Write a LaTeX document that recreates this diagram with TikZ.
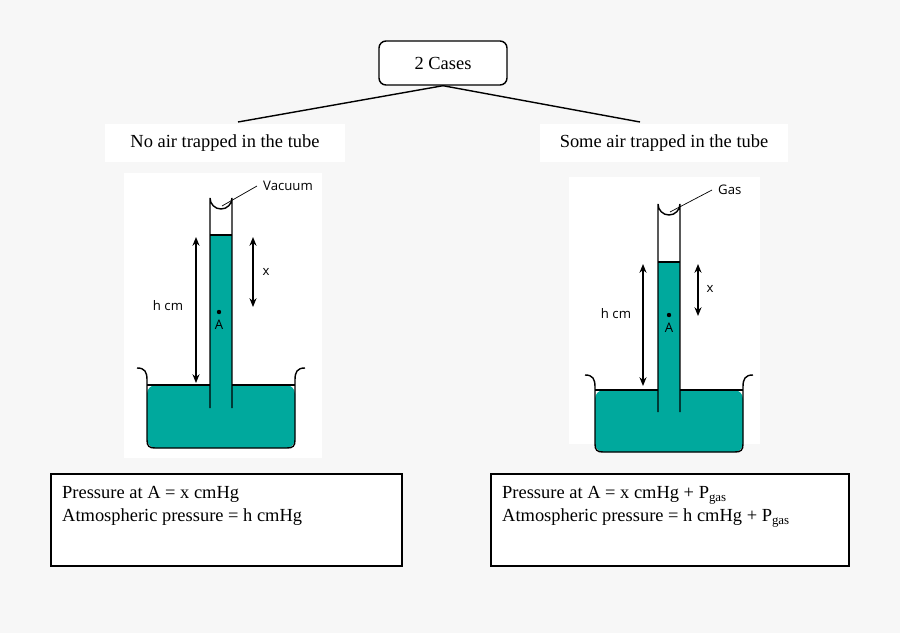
\documentclass[tikz,border=0pt]{standalone}
\usepackage{fontspec}
\setmainfont{Liberation Serif}
\newfontfamily\lab{Open Sans}
\usetikzlibrary{arrows.meta}
\definecolor{bg}{HTML}{F7F7F7}
\definecolor{teal}{HTML}{00A99D}
\begin{document}
\begin{tikzpicture}[x=0.02cm,y=-0.02cm,
  serif/.style={font=\fontsize{10.5pt}{13pt}\selectfont},
  lbl/.style={font=\lab\fontsize{7.5pt}{9pt}\selectfont},
  dim/.style={{Stealth[length=5pt,width=4pt]}-{Stealth[length=5pt,width=4pt]},line width=0.7pt},
  wall/.style={line width=0.8pt}]
\fill[bg] (0,0) rectangle (900,633);
\useasboundingbox (0,0) rectangle (900,633);
% top
\node[draw,rounded corners=4pt,minimum width=128*0.02cm,minimum height=44*0.02cm,fill=white,serif,line width=0.8pt] (cases) at (443,63) {2 Cases};
\coordinate (L) at (238,122); \coordinate (R) at (640,122);
\draw[line width=0.8pt] (cases.south) -- (L);
\draw[line width=0.8pt] (cases.south) -- (R);
\node[fill=white,minimum width=240*0.02cm,minimum height=38*0.02cm,serif] (nl) at (225,143) {No air trapped in the tube};
\node[fill=white,minimum width=248*0.02cm,minimum height=38*0.02cm,serif] (nr) at (664,143) {Some air trapped in the tube};
% bottom boxes
\node[draw,fill=white,minimum width=351*0.02cm,minimum height=92*0.02cm,line width=0.6pt] (bl) at (226.5,520) {};
\node[serif,anchor=north west,align=left] at (56,480) {Pressure at A = x cmHg\\Atmospheric pressure = h cmHg};
\node[draw,fill=white,minimum width=358*0.02cm,minimum height=92*0.02cm,line width=0.6pt] (br) at (670,520) {};
\node[serif,anchor=north west,align=left] at (496,480) {Pressure at A = x cmHg + P\textsubscript{gas}\\Atmospheric pressure = h cmHg + P\textsubscript{gas}};
% left diagram
\fill[white] (124,173) rectangle (322,458);
\fill[teal,rounded corners=5pt] (147,385) -- (147,448) -- (295,448) -- (295,385) -- cycle;
\fill[teal] (210,235) rectangle (232,385);
\draw[wall] (137,368) .. controls (145,368) and (147,372) .. (147,380) -- (147,440) .. controls (147,446) and (149,448) .. (155,448) -- (287,448) .. controls (293,448) and (295,446) .. (295,440) -- (295,380) .. controls (295,372) and (297,368) .. (305,368);
\draw[wall] (147,385) -- (210,385) (232,385) -- (295,385);
\draw[wall] (210,408) -- (210,198) arc[start angle=180,end angle=0,radius=11] -- (232,408);
\draw[wall] (210,235) -- (232,235);
\draw[dim] (196,237) -- (196,383);
\draw[dim] (253,237) -- (253,307);
\node[lbl] at (168,306) {h cm};
\node[lbl] at (266,272) {x};
\fill (219,312) circle (2.2);
\node[lbl] at (219,325) {A};
\node[lbl,anchor=west] (vac) at (257,186) {Vacuum};
\draw[line width=0.4pt] (222,206) -- (vac.west);
% right diagram
\fill[white] (569,177) rectangle (760,444);
\fill[teal,rounded corners=5pt] (595,390) -- (595,452) -- (743,452) -- (743,390) -- cycle;
\fill[teal] (658,262) rectangle (680,390);
\draw[wall] (585,375) .. controls (593,375) and (595,379) .. (595,387) -- (595,444) .. controls (595,450) and (597,452) .. (603,452) -- (735,452) .. controls (741,452) and (743,450) .. (743,444) -- (743,387) .. controls (743,379) and (745,375) .. (753,375);
\draw[wall] (595,390) -- (658,390) (680,390) -- (743,390);
\draw[wall] (658,412) -- (658,204) arc[start angle=180,end angle=0,radius=11] -- (680,412);
\draw[wall] (658,262) -- (680,262);
\draw[dim] (643,264) -- (643,386);
\draw[dim] (698,264) -- (698,316);
\node[lbl] at (616,314) {h cm};
\node[lbl] at (710,289) {x};
\fill (669,315) circle (2.2);
\node[lbl] at (669,328) {A};
\node[lbl,anchor=west] (gas) at (712,190) {Gas};
\draw[line width=0.4pt] (670,212) -- (gas.west);
\end{tikzpicture}
\end{document}
